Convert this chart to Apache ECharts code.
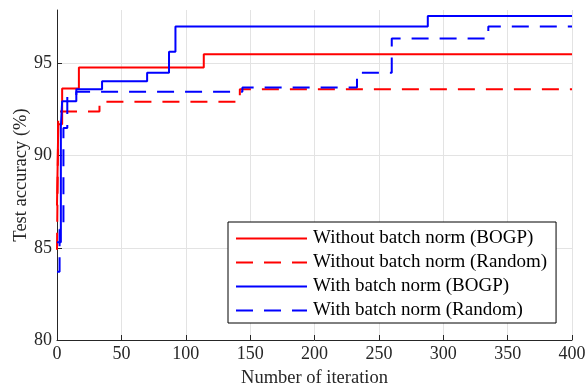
<!DOCTYPE html>
<html>
<head>
<meta charset="utf-8">
<script src="https://cdn.jsdelivr.net/npm/echarts@6/dist/echarts.min.js"></script>
<style>
  html, body { margin: 0; padding: 0; background: #fff; }
  #chart { width: 586px; height: 386px; }
</style>
</head>
<body>
<div id="chart"></div>
<script>
// step curves: iteration where the best accuracy changes, and the value from there on
const noBnBogpIter = [0, 1, 4, 17, 114, 400]
const noBnBogpAcc = [87.3, 91.7, 93.64, 94.78, 95.5, 95.5]
const noBnRandIter = [0, 1, 33, 142, 400]
const noBnRandAcc = [84.9, 92.4, 92.92, 93.6, 93.6]
const bnBogpIter = [0, 3, 4, 15, 35, 70, 87, 92, 288, 400]
const bnBogpAcc = [85.3, 91.57, 92.95, 93.6, 94.04, 94.5, 95.64, 97.0, 97.57, 97.57]
const bnRandIter = [0, 2, 5, 8, 15, 144, 233, 260, 335, 400]
const bnRandAcc = [83.7, 86, 91.5, 93.28, 93.46, 93.7, 94.5, 96.36, 97.0, 97.0]

const seriesNames = [
  'Without batch norm (BOGP)',
  'Without batch norm (Random)',
  'With batch norm (BOGP)',
  'With batch norm (Random)'
]
const xTicks = [0, 50, 100, 150, 200, 250, 300, 350, 400]
const yTicks = [80, 85, 90, 95]

const font = 'Liberation Serif'
const ink = '#262626'
const gridGray = '#e3e3e3'

function pairs(xs, ys) {
  return xs.map((x, i) => [x, ys[i]])
}

function stepSeries(name, xs, ys, color, dashed) {
  return {
    name: name,
    type: 'line',
    step: 'end',
    symbol: 'none',
    data: pairs(xs, ys),
    lineStyle: { color: color, width: 2, type: dashed ? [17, 11] : 'solid' },
    itemStyle: { color: color }
  }
}

const chart = echarts.init(document.getElementById('chart'))
chart.setOption({
  animation: false,
  grid: { left: 57, right: 14, top: 10, bottom: 46, outerBoundsMode: 'none', containLabel: false },
  legend: {
    orient: 'vertical',
    left: 228,
    top: 222,
    backgroundColor: '#fff',
    borderColor: '#000',
    borderWidth: 1,
    borderRadius: 0,
    padding: [7, 9, 3, 7],
    itemWidth: 71,
    itemHeight: 14,
    itemGap: 5,
    itemStyle: { opacity: 0 },
    textStyle: { fontFamily: font, fontSize: 19, color: '#000', padding: [0, 0, 0, 1] },
    data: seriesNames
  },
  xAxis: {
    type: 'value',
    min: xTicks[0],
    max: xTicks[xTicks.length - 1],
    interval: 50,
    name: 'Number of iteration',
    nameLocation: 'middle',
    nameGap: 29,
    nameTextStyle: { fontFamily: font, fontSize: 18.5, color: ink },
    axisLine: { lineStyle: { color: ink, width: 1 } },
    axisTick: { inside: true, length: 5, lineStyle: { color: ink } },
    axisLabel: { fontFamily: font, fontSize: 18, color: ink, margin: 5 },
    splitLine: { show: true, lineStyle: { color: gridGray, width: 1 } }
  },
  yAxis: {
    type: 'value',
    min: yTicks[0],
    max: 97.9,
    interval: 5,
    name: 'Test accuracy (%)',
    nameLocation: 'middle',
    nameGap: 26,
    nameMoveOverlap: false,
    nameTextStyle: { fontFamily: font, fontSize: 18.5, color: ink },
    axisLine: { show: true, lineStyle: { color: ink, width: 1 } },
    axisTick: { show: true, inside: true, length: 5, lineStyle: { color: ink } },
    axisLabel: {
      fontFamily: font, fontSize: 18, color: ink, margin: 5,
      showMaxLabel: false,
      formatter: v => (yTicks.indexOf(v) >= 0 ? String(v) : '')
    },
    splitLine: {
      show: true,
      lineStyle: { color: [gridGray, gridGray, gridGray, gridGray, 'rgba(0,0,0,0)'], width: 1 }
    }
  },
  series: [
    stepSeries(seriesNames[0], noBnBogpIter, noBnBogpAcc, '#ff0000', false),
    stepSeries(seriesNames[1], noBnRandIter, noBnRandAcc, '#ff0000', true),
    stepSeries(seriesNames[2], bnBogpIter, bnBogpAcc, '#0000ff', false),
    stepSeries(seriesNames[3], bnRandIter, bnRandAcc, '#0000ff', true)
  ]
})
</script>
</body>
</html>
